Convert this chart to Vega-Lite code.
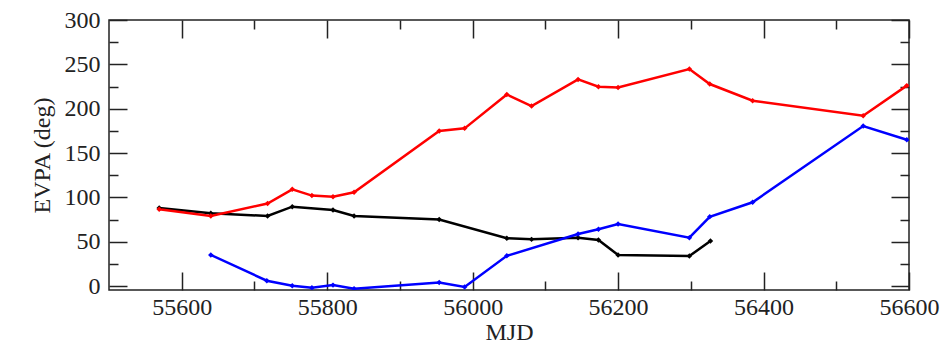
{
  "$schema": "https://vega.github.io/schema/vega-lite/v6.json",
  "width": 800,
  "height": 270,
  "autosize": {"type": "none"},
  "padding": {"left": 109, "top": 20, "right": 43, "bottom": 57},
  "background": "white",
  "config": {
    "view": {"stroke": "#222", "strokeWidth": 1.5},
    "axis": {"grid": false, "domain": false, "labelFont": "Liberation Serif", "titleFont": "Liberation Serif", "labelColor": "#222", "titleColor": "#222", "tickColor": "#222", "tickWidth": 1.5, "labelFontSize": 24, "titleFontSize": 24, "titleFontWeight": "normal"}
  },
  "data": {"values": [
    {"series": "black", "mjd": 55569, "evpa": 88},
    {"series": "black", "mjd": 55640, "evpa": 82},
    {"series": "black", "mjd": 55718, "evpa": 79},
    {"series": "black", "mjd": 55752, "evpa": 89.5},
    {"series": "black", "mjd": 55808, "evpa": 85.7},
    {"series": "black", "mjd": 55837, "evpa": 79},
    {"series": "black", "mjd": 55954, "evpa": 75},
    {"series": "black", "mjd": 56047, "evpa": 53.8},
    {"series": "black", "mjd": 56081, "evpa": 52.6},
    {"series": "black", "mjd": 56145, "evpa": 54.5},
    {"series": "black", "mjd": 56173, "evpa": 52},
    {"series": "black", "mjd": 56200, "evpa": 35},
    {"series": "black", "mjd": 56298, "evpa": 33.8},
    {"series": "black", "mjd": 56327, "evpa": 50.7},
    {"series": "blue", "mjd": 55640, "evpa": 35},
    {"series": "blue", "mjd": 55717, "evpa": 6},
    {"series": "blue", "mjd": 55752, "evpa": 0.3},
    {"series": "blue", "mjd": 55779, "evpa": -2},
    {"series": "blue", "mjd": 55808, "evpa": 1},
    {"series": "blue", "mjd": 55837, "evpa": -3},
    {"series": "blue", "mjd": 55954, "evpa": 4},
    {"series": "blue", "mjd": 55989, "evpa": -1},
    {"series": "blue", "mjd": 56047, "evpa": 34},
    {"series": "blue", "mjd": 56145, "evpa": 58.6},
    {"series": "blue", "mjd": 56173, "evpa": 64},
    {"series": "blue", "mjd": 56200, "evpa": 70},
    {"series": "blue", "mjd": 56298, "evpa": 54.5},
    {"series": "blue", "mjd": 56326, "evpa": 78},
    {"series": "blue", "mjd": 56385, "evpa": 94.4},
    {"series": "blue", "mjd": 56537, "evpa": 180.4},
    {"series": "blue", "mjd": 56597, "evpa": 165},
    {"series": "red", "mjd": 55569, "evpa": 86.5},
    {"series": "red", "mjd": 55640, "evpa": 79},
    {"series": "red", "mjd": 55718, "evpa": 93},
    {"series": "red", "mjd": 55752, "evpa": 109},
    {"series": "red", "mjd": 55779, "evpa": 102},
    {"series": "red", "mjd": 55808, "evpa": 100.7},
    {"series": "red", "mjd": 55837, "evpa": 105.7},
    {"series": "red", "mjd": 55954, "evpa": 174.8},
    {"series": "red", "mjd": 55989, "evpa": 177.8},
    {"series": "red", "mjd": 56047, "evpa": 216},
    {"series": "red", "mjd": 56081, "evpa": 203},
    {"series": "red", "mjd": 56145, "evpa": 233},
    {"series": "red", "mjd": 56173, "evpa": 224.8},
    {"series": "red", "mjd": 56200, "evpa": 224},
    {"series": "red", "mjd": 56298, "evpa": 244.7},
    {"series": "red", "mjd": 56326, "evpa": 227.8},
    {"series": "red", "mjd": 56385, "evpa": 209},
    {"series": "red", "mjd": 56537, "evpa": 192},
    {"series": "red", "mjd": 56597, "evpa": 226}
  ]},
  "resolve": {"axis": {"x": "independent", "y": "independent"}},
  "layer": [
    {
      "mark": {"type": "line", "strokeWidth": 2.5, "clip": true},
      "encoding": {
        "x": {"field": "mjd", "type": "quantitative", "scale": {"domain": [55500, 56600], "nice": false, "zero": false},
          "axis": {"orient": "bottom", "values": [55600, 55800, 56000, 56200, 56400, 56600], "ticks": false, "labelPadding": 5, "format": "d", "title": "MJD", "titlePadding": 1, "labelFlush": false, "labelOverlap": false}},
        "y": {"field": "evpa", "type": "quantitative", "scale": {"domain": [-4.5, 300], "nice": false, "zero": false},
          "axis": {"orient": "left", "values": [0, 50, 100, 150, 200, 250, 300], "ticks": false, "labelPadding": 9, "title": "EVPA (deg)", "titlePadding": 10, "labelFlush": false, "labelOverlap": false}},
        "color": {"field": "series", "type": "nominal", "scale": {"domain": ["black", "blue", "red"], "range": ["#000000", "#0000ff", "#ff0000"]}, "legend": null}
      }
    },
    {
      "mark": {"type": "point", "shape": "diamond", "filled": true, "size": 30, "opacity": 1, "clip": true},
      "encoding": {
        "x": {"field": "mjd", "type": "quantitative", "axis": {"orient": "bottom", "values": [55600, 55800, 56000, 56200, 56400, 56600], "labels": false, "tickSize": -18, "title": null}},
        "y": {"field": "evpa", "type": "quantitative", "axis": {"orient": "left", "values": [0, 50, 100, 150, 200, 250, 300], "labels": false, "tickSize": -18, "title": null}},
        "color": {"field": "series", "type": "nominal", "legend": null}
      }
    },
    {
      "mark": {"type": "point", "opacity": 0},
      "encoding": {
        "x": {"field": "mjd", "type": "quantitative", "axis": {"orient": "bottom", "values": [55700, 55900, 56100, 56300, 56500], "labels": false, "tickSize": -9, "title": null}},
        "y": {"field": "evpa", "type": "quantitative", "axis": {"orient": "left", "values": [25, 75, 125, 175, 225, 275], "labels": false, "tickSize": -9, "title": null}}
      }
    },
    {
      "mark": {"type": "point", "opacity": 0},
      "encoding": {
        "x": {"field": "mjd", "type": "quantitative", "axis": {"orient": "top", "values": [55600, 55800, 56000, 56200, 56400, 56600], "labels": false, "tickSize": -18, "title": null}},
        "y": {"field": "evpa", "type": "quantitative", "axis": {"orient": "right", "values": [0, 50, 100, 150, 200, 250, 300], "labels": false, "tickSize": -18, "title": null}}
      }
    },
    {
      "mark": {"type": "point", "opacity": 0},
      "encoding": {
        "x": {"field": "mjd", "type": "quantitative", "axis": {"orient": "top", "values": [55700, 55900, 56100, 56300, 56500], "labels": false, "tickSize": -9, "title": null}},
        "y": {"field": "evpa", "type": "quantitative", "axis": {"orient": "right", "values": [25, 75, 125, 175, 225, 275], "labels": false, "tickSize": -9, "title": null}}
      }
    }
  ]
}
